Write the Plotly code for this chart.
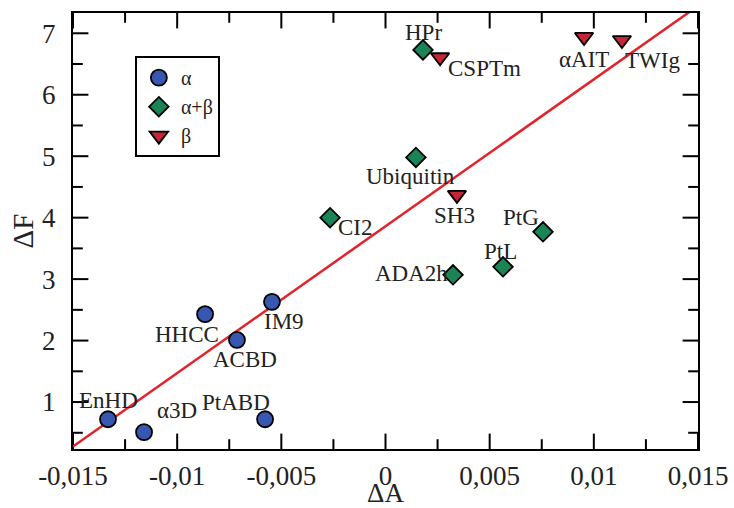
import plotly.graph_objects as go

# Protein groups: ΔA (x) vs ΔF (y)
alpha_names = ["EnHD", "α3D", "HHCC", "ACBD", "IM9", "PtABD"]
alpha_dA = [-0.01332, -0.01159, -0.00866, -0.00713, -0.00545, -0.00578]
alpha_dF = [0.72, 0.51, 2.43, 2.01, 2.63, 0.72]

ab_names = ["CI2", "HPr", "Ubiquitin", "PtG", "PtL", "ADA2h"]
ab_dA = [-0.00266, 0.00180, 0.00146, 0.00756, 0.00564, 0.00324]
ab_dF = [4.00, 6.73, 4.98, 3.77, 3.20, 3.07]

beta_names = ["CSPTm", "αAIT", "TWIg", "SH3"]
beta_dA = [0.00262, 0.00953, 0.01135, 0.00343]
beta_dF = [6.61, 6.94, 6.89, 4.37]

# Linear fit ΔF = intercept + slope * ΔA
fit_intercept = 3.86
fit_slope = 239.0

x_ticks = [-0.015, -0.01, -0.005, 0, 0.005, 0.01, 0.015]
x_ticktext = ["-0,015", "-0,01", "-0,005", "0", "0,005", "0,01", "0,015"]
y_ticks = [1, 2, 3, 4, 5, 6, 7]
y_ticktext = ["1", "2", "3", "4", "5", "6", "7"]

x_range = [-0.015, 0.015]
y_range = [0.236, 7.33]

# label offsets in pixels (dx, dy) relative to each marker
label_offsets = {
    "EnHD": (0, 19), "α3D": (33, 22), "HHCC": (-18, -20), "ACBD": (8, -20),
    "IM9": (12, -20), "PtABD": (-29, 17), "CI2": (25, -10), "HPr": (0, 17),
    "Ubiquitin": (-5, -19), "PtG": (-22, 14), "PtL": (-3, 15), "ADA2h": (-42, 1),
    "CSPTm": (44, -11), "αAIT": (0, -23), "TWIg": (31, -20), "SH3": (-2, -21),
}

SERIF = "Liberation Serif"
W, H = 734, 508
M = dict(l=73, r=36, t=13, b=59)
MAJOR_LEN, MINOR_LEN = 11, 7  # tick lengths in pixels

fig = go.Figure()

# Inward tick marks on all four sides: line symbols centred on the frame,
# the outer half is clipped away by the plotting area.
x_minor = [(a + b) / 2 for a, b in zip(x_ticks[:-1], x_ticks[1:])]
y_minor = [v - 0.5 for v in y_ticks]
for vals, length in ((x_ticks, MAJOR_LEN), (x_minor, MINOR_LEN)):
    fig.add_trace(go.Scatter(
        x=vals + vals, y=[y_range[0]] * len(vals) + [y_range[1]] * len(vals),
        mode="markers", cliponaxis=True, showlegend=False, hoverinfo="skip",
        marker=dict(symbol="line-ns", size=2 * length,
                    line=dict(color="black", width=2)),
    ))
for vals, length in ((y_ticks, MAJOR_LEN), (y_minor, MINOR_LEN)):
    fig.add_trace(go.Scatter(
        x=[x_range[0]] * len(vals) + [x_range[1]] * len(vals), y=vals + vals,
        mode="markers", cliponaxis=True, showlegend=False, hoverinfo="skip",
        marker=dict(symbol="line-ew", size=2 * length,
                    line=dict(color="black", width=2)),
    ))

fx = [x_range[0], x_range[1] + 0.001]
fig.add_trace(go.Scatter(
    x=fx, y=[fit_intercept + fit_slope * v for v in fx],
    mode="lines", line=dict(color="#e3232c", width=2.5), showlegend=False,
    hoverinfo="skip",
))

groups = [
    ("α", alpha_names, alpha_dA, alpha_dF, "circle", "#3757b0", 16),
    ("α+β", ab_names, ab_dA, ab_dF, "diamond", "#1b8457", 15),
    ("β", beta_names, beta_dA, beta_dF, "triangle-down", "#c42638", 16),
]

for label, names, xs, ys, sym, col, size in groups:
    fig.add_trace(go.Scatter(
        x=xs, y=ys, mode="markers", name=label, text=names,
        marker=dict(symbol=sym, color=col, size=size,
                    line=dict(color="black", width=1.8)),
    ))
    for n, xv, yv in zip(names, xs, ys):
        dx, dy = label_offsets[n]
        fig.add_annotation(
            x=xv, y=yv, text=n, showarrow=False, xanchor="center", yanchor="middle",
            xshift=dx, yshift=dy, font=dict(family=SERIF, size=23, color="#222"),
        )

axis_common = dict(
    showline=True, linecolor="black", linewidth=2, mirror=True,
    ticks="", showgrid=False, zeroline=False, tickmode="array",
    tickfont=dict(family=SERIF, size=27, color="#222"),
)

fig.update_xaxes(
    range=x_range, tickvals=x_ticks, ticktext=x_ticktext, ticklabelstandoff=2,
    title=dict(text="ΔA", font=dict(family=SERIF, size=27, color="#222"), standoff=9),
    **axis_common,
)
fig.update_yaxes(
    range=y_range, tickvals=y_ticks, ticktext=y_ticktext, ticklabelstandoff=10,
    title=dict(text="ΔF", font=dict(family=SERIF, size=29, color="#222"), standoff=0),
    **axis_common,
)

fig.update_layout(
    width=W, height=H,
    margin=dict(**M, autoexpand=False),
    paper_bgcolor="white", plot_bgcolor="white",
    legend=dict(
        x=0.099, y=0.901, xanchor="left", yanchor="top",
        bordercolor="black", borderwidth=2, bgcolor="white",
        font=dict(family=SERIF, size=20, color="#222"),
        tracegroupgap=0, itemwidth=34,
    ),
)

fig.write_html("out.html")
